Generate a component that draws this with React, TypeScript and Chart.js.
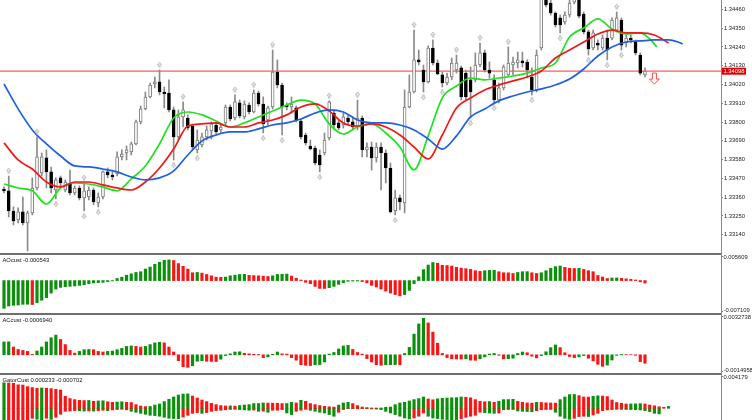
import React, { useEffect, useRef } from "react";
import { Chart, registerables } from "chart.js";
Chart.register(...registerables);

const FONT = '"Liberation Sans", Arial, sans-serif';

// ---------- price data (bar index 0..136) ----------
const OPEN = [
1.33408,1.33397,1.33279,1.33227,1.33274,1.33209,1.33268,1.33414,1.33502,1.33590,
1.33508,1.33402,1.33473,1.33402,1.33437,1.33385,1.33414,1.33356,1.33361,1.33402,
1.33326,1.33361,1.33508,1.33490,1.33496,1.33596,1.33619,1.33625,1.33672,1.33801,
1.33877,1.33947,1.34023,1.34035,1.33976,1.33970,1.33871,1.33713,1.33830,1.33824,
1.33777,1.33637,1.33666,1.33713,1.33748,1.33783,1.33754,1.33795,1.33888,1.33824,
1.33912,1.33830,1.33900,1.33859,1.33970,1.33906,1.33812,1.33888,1.34093,1.34017,
1.33900,1.33888,1.33883,1.33806,1.33724,1.33660,1.33648,1.33607,1.33619,1.33707,
1.33853,1.33795,1.33783,1.33824,1.33801,1.33771,1.33824,1.33637,1.33654,1.33590,
1.33654,1.33619,1.33531,1.33279,1.33356,1.33326,1.33888,1.33976,1.34164,1.34105,
1.34035,1.34234,1.34146,1.34076,1.34029,1.34064,1.34105,1.34117,1.34087,1.34047,
1.34047,1.34134,1.34205,1.34105,1.34047,1.33929,1.34000,1.34076,1.34134,1.34146,
1.34158,1.34152,1.34064,1.33988,1.34234,1.34533,1.34497,1.34439,1.34410,1.34386,
1.34427,1.34503,1.34527,1.34433,1.34328,1.34234,1.34263,1.34234,1.34292,1.34292,
1.34339,1.34398,1.34263,1.34292,1.34269,1.34193,1.34076];
const HIGH = [
1.33420,1.33484,1.33303,1.33297,1.33361,1.33279,1.33473,1.33713,1.33619,1.33637,
1.33537,1.33473,1.33484,1.33461,1.33519,1.33426,1.33426,1.33443,1.33420,1.33414,
1.33385,1.33514,1.33531,1.33508,1.33625,1.33637,1.33660,1.33683,1.33812,1.33894,
1.33976,1.34029,1.34064,1.34105,1.34006,1.34047,1.33888,1.33871,1.33918,1.33842,
1.33789,1.33754,1.33736,1.33777,1.33801,1.33801,1.33789,1.33900,1.33900,1.33959,
1.33929,1.33924,1.33912,1.33988,1.33982,1.33947,1.33894,1.34222,1.34164,1.34029,
1.33912,1.33947,1.33894,1.33818,1.33736,1.33695,1.33660,1.33637,1.33736,1.33924,
1.33871,1.33812,1.33853,1.33842,1.33830,1.33929,1.33836,1.33678,1.33683,1.33678,
1.33678,1.33637,1.33560,1.33402,1.33373,1.33988,1.34076,1.34339,1.34222,1.34134,
1.34246,1.34281,1.34164,1.34093,1.34087,1.34175,1.34193,1.34128,1.34105,1.34123,
1.34205,1.34263,1.34222,1.34152,1.34076,1.34029,1.34134,1.34240,1.34181,1.34210,
1.34210,1.34164,1.34117,1.34222,1.34574,1.34562,1.34515,1.34445,1.34427,1.34445,
1.34515,1.34562,1.34550,1.34445,1.34339,1.34339,1.34281,1.34310,1.34339,1.34410,
1.34445,1.34410,1.34310,1.34310,1.34281,1.34205,1.34117];
const LOW = [
1.33385,1.33244,1.33197,1.33209,1.33197,1.33045,1.33256,1.33402,1.33484,1.33414,
1.33385,1.33350,1.33426,1.33391,1.33373,1.33373,1.33344,1.33279,1.33344,1.33315,
1.33303,1.33350,1.33473,1.33461,1.33484,1.33578,1.33578,1.33607,1.33666,1.33789,
1.33871,1.33941,1.34000,1.33959,1.33883,1.33859,1.33578,1.33695,1.33771,1.33754,
1.33637,1.33619,1.33654,1.33695,1.33701,1.33730,1.33736,1.33783,1.33806,1.33812,
1.33824,1.33818,1.33847,1.33853,1.33894,1.33736,1.33783,1.33877,1.34000,1.33724,
1.33871,1.33853,1.33801,1.33701,1.33666,1.33637,1.33549,1.33508,1.33607,1.33695,
1.33765,1.33754,1.33765,1.33789,1.33754,1.33754,1.33596,1.33596,1.33519,1.33566,
1.33402,1.33443,1.33268,1.33256,1.33285,1.33268,1.33883,1.33970,1.34134,1.33976,
1.34029,1.34134,1.34076,1.34006,1.34017,1.34047,1.34087,1.33929,1.33929,1.33824,
1.34035,1.34123,1.34093,1.34058,1.33912,1.33912,1.33988,1.34064,1.34076,1.34117,
1.34123,1.34058,1.33959,1.33976,1.34222,1.34474,1.34427,1.34357,1.34322,1.34374,
1.34415,1.34492,1.34410,1.34316,1.34193,1.34222,1.34222,1.34222,1.34164,1.34281,
1.34328,1.34222,1.34240,1.34263,1.34193,1.34076,1.34064];
const CLOSE = [
1.33397,1.33279,1.33221,1.33274,1.33209,1.33268,1.33414,1.33596,1.33596,1.33508,
1.33414,1.33461,1.33443,1.33449,1.33385,1.33414,1.33356,1.33397,1.33402,1.33332,
1.33361,1.33508,1.33490,1.33478,1.33596,1.33613,1.33637,1.33672,1.33801,1.33877,
1.33947,1.34017,1.34035,1.33976,1.33965,1.33871,1.33713,1.33830,1.33871,1.33765,
1.33654,1.33695,1.33713,1.33754,1.33789,1.33742,1.33771,1.33888,1.33818,1.33918,
1.33836,1.33906,1.33859,1.33970,1.33906,1.33789,1.33883,1.34093,1.34017,1.33888,
1.33888,1.33906,1.33812,1.33713,1.33678,1.33642,1.33560,1.33549,1.33695,1.33918,
1.33783,1.33765,1.33830,1.33801,1.33771,1.33824,1.33637,1.33654,1.33590,1.33654,
1.33619,1.33531,1.33274,1.33356,1.33332,1.33888,1.33976,1.34164,1.34152,1.34035,
1.34234,1.34146,1.34082,1.34029,1.34064,1.34146,1.34146,1.33947,1.33947,1.33976,
1.34134,1.34205,1.34105,1.34087,1.33929,1.34000,1.34123,1.34146,1.34152,1.34164,
1.34146,1.34105,1.33988,1.34193,1.34527,1.34486,1.34439,1.34369,1.34369,1.34427,
1.34497,1.34538,1.34421,1.34328,1.34228,1.34322,1.34251,1.34292,1.34222,1.34398,
1.34410,1.34251,1.34292,1.34281,1.34205,1.34087,1.34098];

// Alligator lines (already shifted forward), sampled positions in bar index
const JAW_AT = [0,3,6,9,12,15,18,21,24,27,30,33,36,39,42,45,48,51,54,57,60,63,66,69,72,75,78,81,84,87,90,93,96,99,102,105,108,111,114,117,120,123,126,129,132,135,138,141,143,144];
const JAW = [1.34023,1.33877,1.33754,1.33672,1.33601,1.33543,1.33537,1.33525,1.33508,1.33478,1.33461,1.33473,1.33514,1.33607,1.33689,1.33724,1.33742,1.33742,1.33760,1.33783,1.33795,1.33818,1.33853,1.33871,1.33859,1.33812,1.33795,1.33795,1.33783,1.33754,1.33701,1.33642,1.33719,1.33830,1.33877,1.33924,1.33953,1.33976,1.33994,1.34017,1.34052,1.34111,1.34187,1.34240,1.34269,1.34275,1.34281,1.34281,1.34269,1.34257];
const TEETH_AT = [0,3,6,9,12,15,18,21,24,27,30,33,36,39,42,45,48,51,54,57,60,63,66,69,72,75,78,81,84,87,90,93,96,99,102,105,108,111,114,117,120,123,126,129,132,135,138,141];
const TEETH = [1.33678,1.33578,1.33525,1.33449,1.33420,1.33449,1.33449,1.33432,1.33414,1.33402,1.33449,1.33531,1.33642,1.33777,1.33789,1.33795,1.33771,1.33771,1.33795,1.33812,1.33842,1.33888,1.33906,1.33865,1.33795,1.33777,1.33789,1.33771,1.33724,1.33654,1.33584,1.33724,1.33883,1.33941,1.33988,1.34017,1.34041,1.34064,1.34099,1.34175,1.34222,1.34269,1.34316,1.34339,1.34322,1.34322,1.34310,1.34263];
const LIPS_AT = [0,3,6,9,12,15,18,21,24,27,30,33,36,39,42,45,48,51,54,57,60,63,66,69,72,75,78,81,84,87,90,93,96,99,102,105,108,111,114,117,120,123,126,129,132,135,137,138.5];
const LIPS = [1.33437,1.33414,1.33397,1.33320,1.33414,1.33443,1.33437,1.33420,1.33397,1.33467,1.33543,1.33672,1.33824,1.33859,1.33842,1.33806,1.33771,1.33795,1.33830,1.33865,1.33900,1.33929,1.33906,1.33789,1.33730,1.33771,1.33789,1.33736,1.33654,1.33520,1.33719,1.33941,1.34011,1.34058,1.34047,1.34058,1.34070,1.34087,1.34117,1.34146,1.34298,1.34351,1.34404,1.34345,1.34316,1.34322,1.34287,1.34240];

const UP_FRACTALS = [1,7,17,33,38,49,53,57,69,75,87,91,96,101,107,130];
const DOWN_FRACTALS = [5,11,17,20,36,41,55,59,67,83,89,93,99,104,112,118,124,128,131];

const PRICE_TICKS = [1.34460,1.34350,1.34240,1.34130,1.34020,1.33910,1.33800,1.33690,1.33580,1.33470,1.33360,1.33250,1.33140];
const PRICE_MIN = 1.33033;
const PRICE_MAX = 1.34515;
const CURRENT_PRICE = 1.34098;
const SIGNAL_INDEX = 138;
const SIGNAL_PRICE = 1.34087;

// ---------- oscillators ----------
const AO = [
-0.00609,-0.00558,-0.00542,-0.00535,-0.00521,-0.00519,-0.00525,-0.00484,-0.00431,-0.00373,
-0.00274,-0.00185,-0.00149,-0.00134,-0.00127,-0.00118,-0.00105,-0.00089,-0.00067,-0.00051,
-0.00045,-0.00038,-0.00022,-0.00007,0.00045,0.00074,0.00118,0.00149,0.00178,0.00194,
0.00252,0.00297,0.00357,0.00402,0.00446,0.00453,0.00440,0.00373,0.00312,0.00252,
0.00172,0.00178,0.00163,0.00134,0.00105,0.00074,0.00071,0.00076,0.00105,0.00118,
0.00134,0.00136,0.00115,0.00110,0.00105,0.00096,0.00089,0.00105,0.00134,0.00138,
0.00143,0.00100,0.00051,0.00011,-0.00038,-0.00067,-0.00127,-0.00172,-0.00174,-0.00156,
-0.00127,-0.00083,-0.00045,-0.00015,-0.00011,-0.00009,-0.00022,-0.00051,-0.00105,-0.00141,
-0.00185,-0.00230,-0.00274,-0.00306,-0.00335,-0.00306,-0.00216,-0.00067,0.00083,0.00240,
0.00341,0.00395,0.00379,0.00335,0.00330,0.00319,0.00290,0.00274,0.00261,0.00245,
0.00216,0.00201,0.00216,0.00223,0.00225,0.00194,0.00172,0.00170,0.00156,0.00178,
0.00194,0.00196,0.00172,0.00156,0.00172,0.00216,0.00268,0.00306,0.00319,0.00290,
0.00268,0.00265,0.00268,0.00245,0.00216,0.00194,0.00112,0.00078,0.00045,0.00056,
0.00058,0.00049,0.00038,0.00027,0.00013,-0.00027,-0.000543];
const AO_MAX = 0.005609;
const AO_MIN = -0.007109;

const AC = [
0.00106,0.00107,0.00064,0.00044,0.00036,0.00028,0.00003,0.00031,0.00064,0.00106,
0.00140,0.00162,0.00126,0.00084,0.00036,0.00014,0.00028,0.00042,0.00044,0.00042,
0.00028,0.00023,0.00028,0.00031,0.00042,0.00053,0.00069,0.00073,0.00069,0.00064,
0.00069,0.00084,0.00098,0.00103,0.00098,0.00064,0.00023,-0.00048,-0.00098,-0.00103,
-0.00090,-0.00053,-0.00048,-0.00053,-0.00054,-0.00055,-0.00036,-0.00006,0.00008,0.00023,
0.00025,0.00012,0.00008,0.00004,0.00003,-0.00023,-0.00017,0.00004,0.00023,0.00008,
0.00006,-0.00023,-0.00044,-0.00081,-0.00086,-0.00088,-0.00081,-0.00080,-0.00059,0.00006,
0.00019,0.00048,0.00073,0.00078,0.00044,0.00019,0.00006,-0.00031,-0.00059,-0.00081,
-0.00086,-0.00082,-0.00081,-0.00080,-0.00082,0.00011,0.00061,0.00170,0.00254,0.00300,
0.00262,0.00187,0.00095,0.00011,-0.00023,-0.00033,-0.00034,-0.00035,-0.00033,-0.00044,
-0.00045,-0.00033,-0.00017,0.00006,0.00011,-0.00004,-0.00033,-0.00032,-0.00028,0.00011,
0.00023,0.00017,-0.00011,-0.00025,-0.00006,0.00025,0.00059,0.00081,0.00059,0.00017,
-0.00014,-0.00023,-0.00017,-0.00006,-0.00028,-0.00050,-0.00078,-0.00095,-0.00085,-0.00043,
-0.00004,0.00003,0.00002,0.00001,-0.00004,-0.00056,-0.000694];
const AC_MAX = 0.0032738;
const AC_MIN = -0.0014958;

const GATOR_UP = [
0.00320,0.00318,0.00314,0.00295,0.00292,0.00272,0.00260,0.00251,0.00255,0.00251,
0.00247,0.00238,0.00230,0.00151,0.00122,0.00109,0.00100,0.00097,0.00098,0.00088,
0.00092,0.00094,0.00082,0.00075,0.00079,0.00082,0.00075,0.00072,0.00046,0.00029,
0.00021,0.00023,0.00041,0.00054,0.00084,0.00113,0.00142,0.00167,0.00179,0.00181,
0.00154,0.00129,0.00104,0.00084,0.00063,0.00046,0.00034,0.00029,0.00030,0.00028,
0.00034,0.00041,0.00046,0.00059,0.00060,0.00067,0.00065,0.00064,0.00063,0.00059,
0.00060,0.00075,0.00067,0.00100,0.00088,0.00059,0.00046,0.00034,0.00025,0.00019,
0.00015,0.00040,0.00067,0.00075,0.00059,0.00034,0.00016,0.00009,0.00004,0.00003,
0.00004,0.00013,0.00016,0.00046,0.00067,0.00075,0.00092,0.00109,0.00122,0.00142,
0.00117,0.00107,0.00119,0.00126,0.00129,0.00132,0.00134,0.00142,0.00138,0.00132,
0.00109,0.00088,0.00082,0.00085,0.00075,0.00088,0.00109,0.00110,0.00113,0.00088,
0.00075,0.00067,0.00065,0.00075,0.00073,0.00069,0.00067,0.00065,0.00109,0.00142,
0.00172,0.00173,0.00159,0.00142,0.00141,0.00151,0.00157,0.00154,0.00147,0.00104,
0.00072,0.00063,0.00054,0.00055,0.00056,0.00058,0.00054,0.00041,0.00031,0.00019,
0.00013,0.000233];
const GATOR_DOWN = [
-0.00251,-0.00238,-0.00226,-0.00213,-0.00201,-0.00188,-0.00126,-0.00138,-0.00144,-0.00126,
-0.00138,-0.00113,-0.00075,-0.00038,-0.00034,-0.00029,-0.00031,-0.00035,-0.00033,-0.00035,
-0.00031,-0.00025,-0.00029,-0.00021,-0.00016,-0.00013,-0.00019,-0.00038,-0.00050,-0.00063,
-0.00075,-0.00088,-0.00092,-0.00100,-0.00113,-0.00126,-0.00129,-0.00132,-0.00109,-0.00088,
-0.00063,-0.00054,-0.00063,-0.00054,-0.00038,-0.00029,-0.00025,-0.00019,-0.00015,-0.00013,
-0.00016,-0.00020,-0.00025,-0.00023,-0.00038,-0.00035,-0.00050,-0.00025,-0.00024,-0.00016,
-0.00059,-0.00079,-0.00038,-0.00025,-0.00013,-0.00025,-0.00038,-0.00050,-0.00059,-0.00079,
-0.00100,-0.00050,-0.00016,-0.00004,-0.00006,-0.00004,-0.00005,-0.00006,-0.00008,-0.00010,
-0.00016,-0.00038,-0.00059,-0.00079,-0.00100,-0.00122,-0.00134,-0.00122,-0.00100,-0.00059,
-0.00100,-0.00122,-0.00129,-0.00138,-0.00142,-0.00144,-0.00147,-0.00132,-0.00113,-0.00100,
-0.00088,-0.00050,-0.00056,-0.00060,-0.00063,-0.00059,-0.00019,-0.00016,-0.00015,-0.00034,
-0.00038,-0.00041,-0.00044,-0.00031,-0.00019,-0.00016,-0.00015,-0.00050,-0.00100,-0.00126,
-0.00138,-0.00126,-0.00104,-0.00100,-0.00103,-0.00084,-0.00063,-0.00029,-0.00021,-0.00016,
-0.00013,-0.00014,-0.00015,-0.00016,-0.00018,-0.00021,-0.00029,-0.00041,-0.00063,-0.000702];
const GATOR_MAX = 0.004179;
const GATOR_VISIBLE_MIN = -0.00147;

// ---------- layout / style ----------
const X_MIN = -0.85;
const X_MAX = 152.13;
const AXIS_W = 31;
const GREEN = "#0a900a";
const RED = "#fa1414";

const xScale: any = { type: "linear", min: X_MIN, max: X_MAX, display: false, offset: false };

function drawFractal(ctx: any, x: number, cy: number, up: boolean) {
  const d = up ? 1 : -1;
  ctx.beginPath();
  ctx.moveTo(x, cy - 3 * d);
  ctx.lineTo(x + 2.2, cy - 0.2 * d);
  ctx.lineTo(x + 0.8, cy - 0.2 * d);
  ctx.lineTo(x + 0.8, cy + 2.2 * d);
  ctx.lineTo(x - 0.8, cy + 2.2 * d);
  ctx.lineTo(x - 0.8, cy - 0.2 * d);
  ctx.lineTo(x - 2.2, cy - 0.2 * d);
  ctx.closePath();
  ctx.fillStyle = "#e6e6ec";
  ctx.fill();
  ctx.strokeStyle = "#a9a9b4";
  ctx.lineWidth = 0.6;
  ctx.stroke();
}

const mainOverlay = {
  id: "mainOverlay",
  beforeDatasetsDraw(chart: any) {
    const { ctx, chartArea: a, scales } = chart;
    const py = scales.y.getPixelForValue(CURRENT_PRICE);
    ctx.save();
    ctx.strokeStyle = "#ff5a5a";
    ctx.lineWidth = 1.3;
    ctx.beginPath();
    ctx.moveTo(a.left, py);
    ctx.lineTo(a.right, py);
    ctx.stroke();
    ctx.restore();
  },
  afterDatasetsDraw(chart: any) {
    const { ctx, chartArea: a, scales } = chart;
    const x = scales.x, y = scales.y;
    ctx.save();
    ctx.beginPath();
    ctx.rect(a.left, a.top, a.right - a.left, a.bottom - a.top);
    ctx.clip();
    UP_FRACTALS.forEach((i) => drawFractal(ctx, x.getPixelForValue(i), y.getPixelForValue(HIGH[i]) - 5, true));
    DOWN_FRACTALS.forEach((i) => drawFractal(ctx, x.getPixelForValue(i), y.getPixelForValue(LOW[i]) + 5, false));
    const sx = x.getPixelForValue(SIGNAL_INDEX);
    const sy = y.getPixelForValue(SIGNAL_PRICE);
    ctx.beginPath();
    ctx.moveTo(sx - 2, sy);
    ctx.lineTo(sx + 2, sy);
    ctx.lineTo(sx + 2, sy + 6);
    ctx.lineTo(sx + 5, sy + 6);
    ctx.lineTo(sx, sy + 11);
    ctx.lineTo(sx - 5, sy + 6);
    ctx.lineTo(sx - 2, sy + 6);
    ctx.closePath();
    ctx.fillStyle = "#fff";
    ctx.fill();
    ctx.strokeStyle = "#ff4a4a";
    ctx.lineWidth = 1;
    ctx.stroke();
    ctx.restore();
  },
  afterDraw(chart: any) {
    const { ctx, chartArea: a, scales } = chart;
    const py = scales.y.getPixelForValue(CURRENT_PRICE);
    ctx.save();
    ctx.fillStyle = "#e00000";
    ctx.fillRect(a.right + 1, py - 3.5, 24, 7);
    ctx.fillStyle = "#fff";
    ctx.font = `5.8px ${FONT}`;
    ctx.textBaseline = "middle";
    ctx.textAlign = "left";
    ctx.fillText(CURRENT_PRICE.toFixed(5), a.right + 2.5, py + 0.3);
    ctx.restore();
  },
};

function paneText(title: string, topLabel: string, bottomLabel: string | null) {
  return {
    id: "paneText",
    afterDraw(chart: any) {
      const { ctx, chartArea: a } = chart;
      ctx.save();
      ctx.font = `5.8px ${FONT}`;
      ctx.fillStyle = "#111";
      ctx.textBaseline = "middle";
      ctx.textAlign = "left";
      ctx.fillText(title, a.left + 2.5, a.top + 5);
      ctx.fillStyle = "#222";
      ctx.fillText(topLabel, a.right + 2.5, a.top + 2.6);
      ctx.strokeStyle = "#808080";
      ctx.lineWidth = 1;
      ctx.beginPath();
      ctx.moveTo(a.right, a.top + 1.5);
      ctx.lineTo(a.right + 2, a.top + 1.5);
      if (bottomLabel) {
        ctx.fillText(bottomLabel, a.right + 2.5, a.bottom - 2.6);
        ctx.moveTo(a.right, a.bottom - 1.5);
        ctx.lineTo(a.right + 2, a.bottom - 1.5);
      }
      ctx.stroke();
      ctx.restore();
    },
  };
}

function upDownColors(vals: number[], useAbs: boolean) {
  return vals.map((v, i) => {
    if (i === 0) return GREEN;
    const cur = useAbs ? Math.abs(v) : v;
    const prev = useAbs ? Math.abs(vals[i - 1]) : vals[i - 1];
    return cur > prev ? GREEN : RED;
  });
}

function mainConfig(): any {
  const idx = OPEN.map((_, i) => i);
  const bull = idx.map((i) => CLOSE[i] >= OPEN[i]);
  const line = (at: number[], vals: number[], color: string) => ({
    type: "line",
    data: at.map((x, k) => ({ x, y: vals[k] })),
    borderColor: color,
    borderWidth: 1.7,
    pointRadius: 0,
    cubicInterpolationMode: "monotone",
    fill: false,
    order: 0,
  });
  return {
    type: "bar",
    data: {
      datasets: [
        line(JAW_AT, JAW, "#1f5fe0"),
        line(TEETH_AT, TEETH, "#f01818"),
        line(LIPS_AT, LIPS, "#22e022"),
        {
          type: "bar",
          data: idx.map((i) => ({ x: i, y: [OPEN[i], CLOSE[i]] })),
          backgroundColor: bull.map((b) => (b ? "#ffffff" : "#000000")),
          borderColor: bull.map((b) => (b ? "#7a7a7a" : "#000000")),
          borderWidth: 1,
          borderSkipped: false,
          barThickness: 3,
          minBarLength: 1,
          grouped: false,
          order: 1,
        },
        {
          type: "bar",
          data: idx.map((i) => ({ x: i, y: [LOW[i], HIGH[i]] })),
          backgroundColor: "#8a8a8a",
          borderWidth: 0,
          barThickness: 1,
          grouped: false,
          order: 2,
        },
      ],
    },
    options: {
      responsive: false,
      animation: false,
      events: [],
      layout: { padding: 0, autoPadding: false },
      plugins: { legend: { display: false }, tooltip: { enabled: false } },
      scales: {
        x: xScale,
        y: {
          type: "linear",
          position: "right",
          min: PRICE_MIN,
          max: PRICE_MAX,
          beginAtZero: false,
          afterBuildTicks: (s: any) => {
            s.ticks = PRICE_TICKS.map((v) => ({ value: v }));
          },
          afterFit: (s: any) => {
            s.width = AXIS_W;
            s.paddingTop = 0;
            s.paddingBottom = 0;
          },
          grid: { display: true, drawOnChartArea: false, drawTicks: true, tickLength: 2, color: "#808080" },
          border: { display: false },
          ticks: {
            padding: 1,
            color: "#222",
            autoSkip: false,
            maxRotation: 0,
            font: { size: 5.8, family: FONT },
            callback: (v: any) => Number(v).toFixed(5),
          },
        },
      },
    },
    plugins: [mainOverlay],
  };
}

function paneConfig(datasets: any[], min: number, max: number, plugin: any): any {
  return {
    type: "bar",
    data: { datasets },
    options: {
      responsive: false,
      animation: false,
      events: [],
      layout: { padding: { left: 0, top: 0, bottom: 0, right: AXIS_W }, autoPadding: false },
      plugins: { legend: { display: false }, tooltip: { enabled: false } },
      scales: {
        x: xScale,
        y: { type: "linear", min, max, beginAtZero: false, display: false },
      },
    },
    plugins: [plugin],
  };
}

function histo(vals: number[], colors: string[]) {
  return {
    type: "bar",
    data: vals.map((v, i) => ({ x: i, y: v })),
    backgroundColor: colors,
    borderWidth: 0,
    barThickness: 2.5,
    grouped: false,
  };
}

export default function App() {
  const mainRef = useRef<HTMLCanvasElement>(null);
  const aoRef = useRef<HTMLCanvasElement>(null);
  const acRef = useRef<HTMLCanvasElement>(null);
  const gatorRef = useRef<HTMLCanvasElement>(null);

  useEffect(() => {
    document.body.style.margin = "0";
    Chart.defaults.font.family = FONT;
    const charts: any[] = [];
    charts.push(new Chart(mainRef.current as any, mainConfig()));
    charts.push(
      new Chart(
        aoRef.current as any,
        paneConfig(
          [histo(AO, upDownColors(AO, false))],
          AO_MIN,
          AO_MAX,
          paneText(`AOcust ${AO[AO.length - 1].toFixed(6)}`, AO_MAX.toFixed(6), AO_MIN.toFixed(6))
        )
      )
    );
    charts.push(
      new Chart(
        acRef.current as any,
        paneConfig(
          [histo(AC, upDownColors(AC, false))],
          AC_MIN,
          AC_MAX,
          paneText(`ACcust ${AC[AC.length - 1].toFixed(7)}`, AC_MAX.toFixed(7), AC_MIN.toFixed(7))
        )
      )
    );
    charts.push(
      new Chart(
        gatorRef.current as any,
        paneConfig(
          [histo(GATOR_UP, upDownColors(GATOR_UP, true)), histo(GATOR_DOWN, upDownColors(GATOR_DOWN, true))],
          GATOR_VISIBLE_MIN,
          GATOR_MAX,
          paneText(
            `GatorCust ${GATOR_UP[GATOR_UP.length - 1].toFixed(6)} ${GATOR_DOWN[GATOR_DOWN.length - 1].toFixed(6)}`,
            GATOR_MAX.toFixed(6),
            null
          )
        )
      )
    );
    return () => charts.forEach((c) => c.destroy());
  }, []);

  const abs = (top: number, h: number): any => ({ position: "absolute", left: 0, top, width: 752, height: h });
  const sep = (top: number): any => ({ position: "absolute", left: 0, top, width: 721, height: 2, background: "#6e6e6e" });

  return (
    <div style={{ position: "fixed", left: 0, top: 0, width: 752, height: 420, background: "#fff", overflow: "hidden" }}>
      <canvas ref={mainRef} width={752} height={253} style={abs(0, 253)} />
      <div style={sep(253)} />
      <canvas ref={aoRef} width={752} height={58} style={abs(255, 58)} />
      <div style={sep(313)} />
      <canvas ref={acRef} width={752} height={58} style={abs(315, 58)} />
      <div style={sep(373)} />
      <canvas ref={gatorRef} width={752} height={45} style={abs(375, 45)} />
      <div style={{ position: "absolute", left: 721, top: 0, width: 1, height: 420, background: "#8a8a8a" }} />
    </div>
  );
}
